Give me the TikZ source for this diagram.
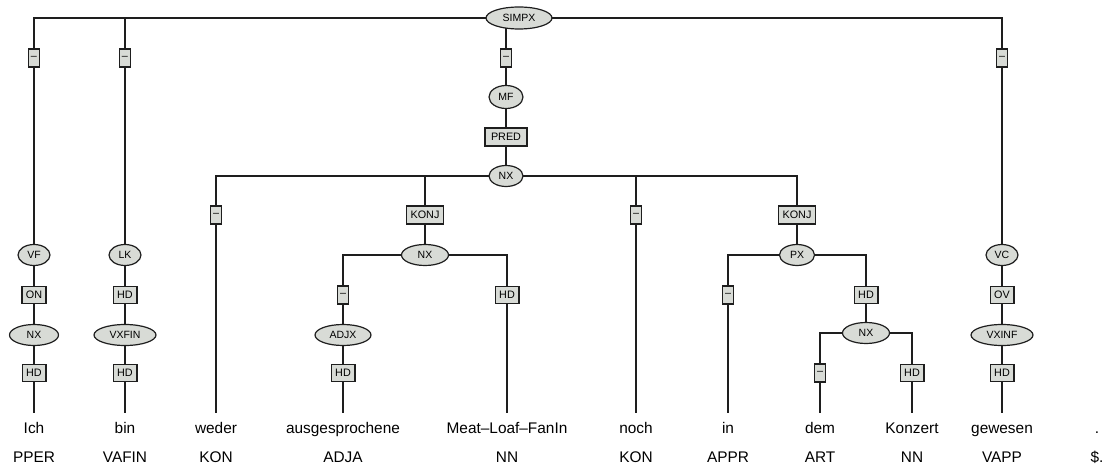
\documentclass[tikz,border=0pt]{standalone}
\usepackage{fontspec}
\setmainfont{Liberation Sans}
\usetikzlibrary{shapes.geometric,backgrounds}
\definecolor{nodefill}{RGB}{216,219,214}
\definecolor{linecol}{RGB}{30,30,30}
\begin{document}
\begin{tikzpicture}[x=1pt,y=-1pt,
 cat/.style={ellipse, draw=linecol, line width=1.2pt, fill=nodefill, inner sep=0pt, minimum height=21pt, font=\fontsize{10.5}{12}\selectfont},
 lab/.style={rectangle, draw=linecol, line width=1.4pt, fill=nodefill, inner xsep=4pt, inner ysep=0pt, minimum height=17pt, font=\fontsize{10.8}{12}\selectfont},
 dlab/.style={lab, inner xsep=2.5pt, minimum height=18pt},
 word/.style={anchor=base, font=\fontsize{15.4}{18}\selectfont, text height=11pt, text depth=3pt, inner ysep=9pt, inner xsep=0pt},
 postag/.style={anchor=base, font=\fontsize{15.4}{18}\selectfont},
 edge/.style={draw=linecol, line width=1.2pt}]
\useasboundingbox (0,0) rectangle (1105,470);
% row 0
\node[cat, minimum width=66pt, minimum height=22pt] (simpx) at (519,18) {SIMPX};
% row 1 labels
\node[dlab] (d1) at (34,58) {\textendash};
\node[dlab] (d2) at (125,58) {\textendash};
\node[dlab] (d3) at (506,58) {\textendash};
\node[dlab] (d4) at (1002,58) {\textendash};
% MF branch
\node[cat, minimum width=34pt, minimum height=23pt] (mf) at (506,97) {MF};
\node[lab, minimum height=18pt, inner xsep=6pt] (pred) at (506,137) {PRED};
\node[cat, minimum width=34pt] (nxt) at (506,176) {NX};
% row 215 labels
\node[dlab] (d5) at (216,215) {\textendash};
\node[lab, minimum height=18pt] (k1) at (425,215) {KONJ};
\node[dlab] (d7) at (636,215) {\textendash};
\node[lab, minimum height=18pt] (k2) at (797,215) {KONJ};
% row 255
\node[cat, minimum width=32pt] (vf) at (34,255) {VF};
\node[cat, minimum width=32pt] (lk) at (125,255) {LK};
\node[cat, minimum width=47pt] (nx3) at (425,255) {NX};
\node[cat, minimum width=35pt] (px) at (797,255) {PX};
\node[cat, minimum width=32pt] (vc) at (1002,255) {VC};
% row 295
\node[lab] (on) at (34,295) {ON};
\node[lab] (hd2) at (125,295) {HD};
\node[dlab] (d6) at (343,295) {\textendash};
\node[lab] (hd6) at (507,295) {HD};
\node[dlab] (d8) at (728,295) {\textendash};
\node[lab] (hd7) at (866,295) {HD};
\node[lab] (ov) at (1002,295) {OV};
% row 335
\node[cat, minimum width=49pt] (nx4) at (34,335) {NX};
\node[cat, minimum width=62pt] (vxfin) at (125,335) {VXFIN};
\node[cat, minimum width=56pt] (adjx) at (343,335) {ADJX};
\node[cat, minimum width=47pt] (nx5) at (866,333) {NX};
\node[cat, minimum width=62pt] (vxinf) at (1002,335) {VXINF};
% row 373
\node[lab] (hd1) at (34,373) {HD};
\node[lab] (hd3) at (125,373) {HD};
\node[lab] (hd5) at (343,373) {HD};
\node[dlab] (d9) at (820,373) {\textendash};
\node[lab] (hd8) at (912,373) {HD};
\node[lab] (hd4) at (1002,373) {HD};
% words
\node[word] (w1) at (34,433) {Ich};
\node[word] (w2) at (125,433) {bin};
\node[word] (w3) at (216,433) {weder};
\node[word] (w4) at (343,433) {ausgesprochene};
\node[word] (w5) at (507,433) {Meat\textendash Loaf\textendash FanIn};
\node[word] (w6) at (636,433) {noch};
\node[word] (w7) at (728,433) {in};
\node[word] (w8) at (820,433) {dem};
\node[word] (w9) at (912,433) {Konzert};
\node[word] (w10) at (1002,433) {gewesen};
\node[word] (w11) at (1097,433) {.};
% POS tags
\node[postag] (p1) at (34,462) {PPER};
\node[postag] (p2) at (125,462) {VAFIN};
\node[postag] (p3) at (216,462) {KON};
\node[postag] (p4) at (343,462) {ADJA};
\node[postag] (p5) at (507,462) {NN};
\node[postag] (p6) at (636,462) {KON};
\node[postag] (p7) at (728,462) {APPR};
\node[postag] (p8) at (820,462) {ART};
\node[postag] (p9) at (912,462) {NN};
\node[postag] (p10) at (1002,462) {VAPP};
\node[postag] (p11) at (1097,462) {\$.};
% edges
\begin{scope}[on background layer]
\draw[edge] (simpx.center) -| (d1.center) -- (vf.center) -- (on.center) -- (nx4.center) -- (hd1.center) -- (w1.north);
\draw[edge] (simpx.center) -| (d2.center) -- (lk.center) -- (hd2.center) -- (vxfin.center) -- (hd3.center) -- (w2.north);
\draw[edge] (d3.center |- simpx.center) -- (d3.center) -- (mf.center) -- (pred.center) -- (nxt.center);
\draw[edge] (simpx.center) -| (d4.center) -- (vc.center) -- (ov.center) -- (vxinf.center) -- (hd4.center) -- (w10.north);
\draw[edge] (nxt.center) -| (d5.center) -- (w3.north);
\draw[edge] (nxt.center) -| (k1.center) -- (nx3.center);
\draw[edge] (nx3.center) -| (d6.center) -- (adjx.center) -- (hd5.center) -- (w4.north);
\draw[edge] (nx3.center) -| (hd6.center) -- (w5.north);
\draw[edge] (nxt.center) -| (d7.center) -- (w6.north);
\draw[edge] (nxt.center) -| (k2.center) -- (px.center);
\draw[edge] (px.center) -| (d8.center) -- (w7.north);
\draw[edge] (px.center) -| (hd7.center) -- (nx5.center);
\draw[edge] (nx5.center) -| (d9.center) -- (w8.north);
\draw[edge] (nx5.center) -| (hd8.center) -- (w9.north);
\end{scope}
\end{tikzpicture}
\end{document}
